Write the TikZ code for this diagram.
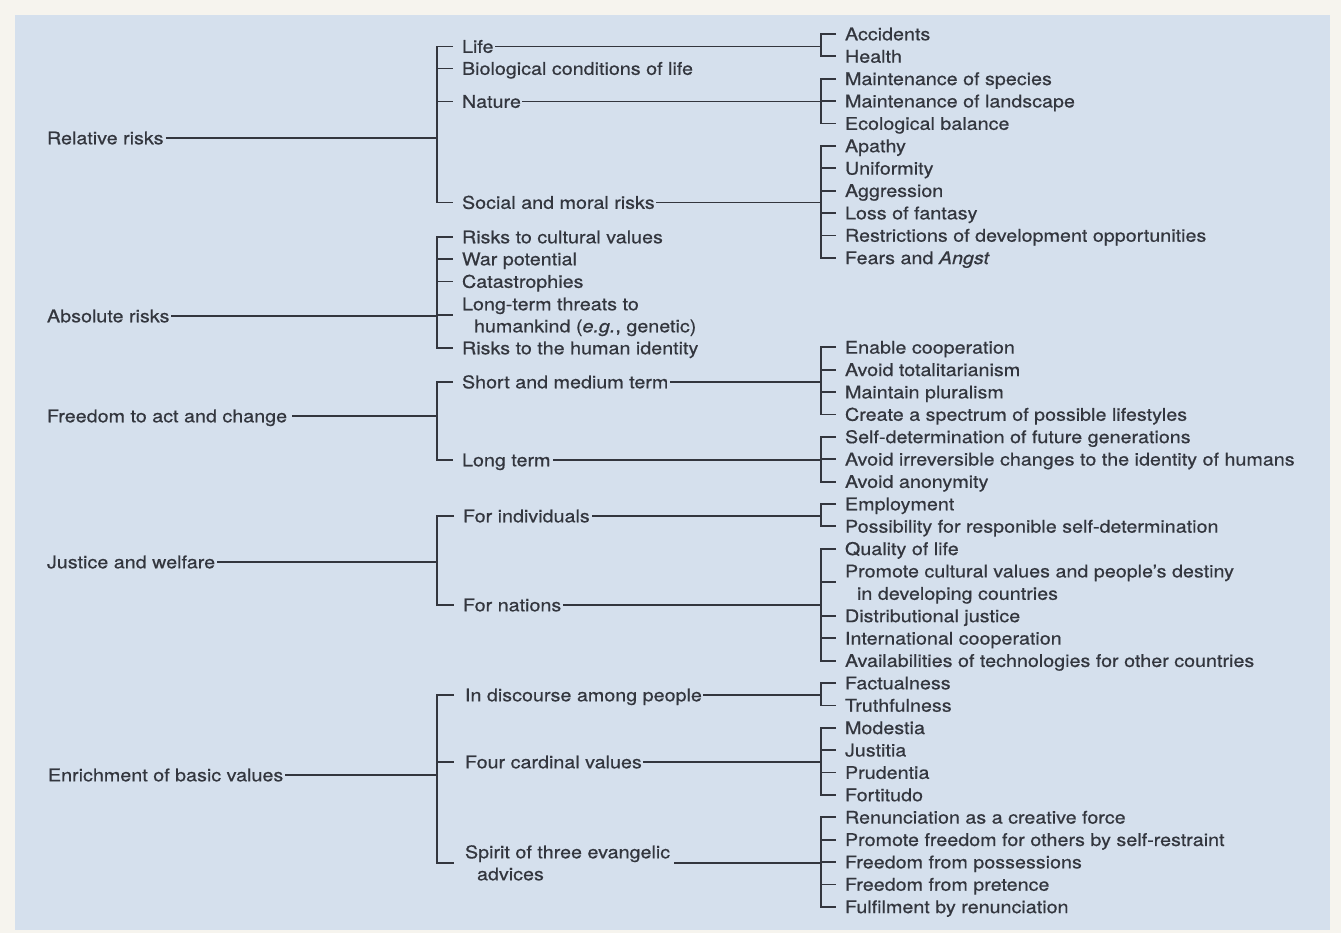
\documentclass[tikz,border=0pt]{standalone}
\usepackage{fontspec}
\setmainfont{TeX Gyre Heros}[FakeStretch=1.127,FakeBold=0.6]
\usetikzlibrary{calc}
\definecolor{paper}{HTML}{F6F4EE}
\definecolor{panel}{HTML}{D5E0ED}
\definecolor{ink}{HTML}{33363E}
\newcommand\lvy[1]{34+22.38*#1}
\begin{document}
\begin{tikzpicture}[x=1pt,y=-1pt,
  lbl/.style={anchor=west, inner sep=0pt, outer sep=0pt, text height=12.6pt, text depth=0pt,
              text=ink, font=\fontsize{17.5}{21}\selectfont},
  wire/.style={draw=ink, line width=1.8pt, line cap=butt},
]
\fill[paper] (0,0) rectangle (1341,933);
\fill[panel] (15,15) rectangle (1330,930);
\useasboundingbox (0,0) rectangle (1341,933);
\coordinate (bx2) at (437,0);
\coordinate (bx3) at (821,0);

% ---------- level 1 ----------
\node[lbl] (rel) at (47,138) {Relative risks};
\node[lbl] (abs) at (47,316) {Absolute risks};
\node[lbl] (fre) at (47,416) {Freedom to act and change};
\node[lbl] (jus) at (47,562) {Justice and welfare};
\node[lbl] (enr) at (48,775) {Enrichment of basic values};

% ---------- level 2 ----------
\node[lbl] (life) at (462,46.5) {Life};
\node[lbl] (bio) at (462,68.5) {Biological conditions of life};
\node[lbl] (nat) at (462,101.5) {Nature};
\node[lbl] (soc) at (462,202.5) {Social and moral risks};
\node[lbl] (cul) at (462,237) {Risks to cultural values};
\node[lbl] (war) at (462,259) {War potential};
\node[lbl] (cat) at (462,281.5) {Catastrophies};
\node[lbl] (lt1) at (462,304) {Long-term threats to};
\node[lbl] (lt2) at (474,326) {humankind (\textit{e.g.}, genetic)};
\node[lbl] (hid) at (462,348) {Risks to the human identity};
\node[lbl] (smt) at (462,382) {Short and medium term};
\node[lbl] (lterm) at (462,460) {Long term};
\node[lbl] (ind) at (463,516) {For individuals};
\node[lbl] (fnat) at (463,605) {For nations};
\node[lbl] (dis) at (465,695) {In discourse among people};
\node[lbl] (car) at (465,762) {Four cardinal values};
\node[lbl] (sp1) at (465,852) {Spirit of three evangelic};
\node[lbl] (sp2) at (477,874) {advices};
\coordinate (ltm) at ($(lt1.west)!0.5!(lt1.west |- lt2.west)$);
\coordinate (spm) at ($(sp1.west)!0.5!(sp1.west |- sp2.west)$);

% ---------- level 3 ----------
\foreach \i/\t in {0/Accidents, 1/Health, 2/Maintenance of species, 3/Maintenance of landscape,
  4/Ecological balance, 5/Apathy, 6/Uniformity, 7/Aggression, 8/Loss of fantasy,
  9/Restrictions of development opportunities, 10/{Fears and \textit{Angst}},
  14/Enable cooperation, 15/Avoid totalitarianism, 16/Maintain pluralism,
  17/Create a spectrum of possible lifestyles, 18/Self-determination of future generations,
  19/Avoid irreversible changes to the identity of humans, 20/Avoid anonymity,
  21/Employment, 22/Possibility for responible self-determination, 23/Quality of life,
  24/Promote cultural values and people's destiny, 26/Distributional justice,
  27/International cooperation, 28/Availabilities of technologies for other countries,
  29/Factualness, 30/Truthfulness, 31/Modestia, 32/Justitia, 33/Prudentia, 34/Fortitudo,
  35/Renunciation as a creative force, 36/Promote freedom for others by self-restraint,
  37/Freedom from possessions, 38/Freedom from pretence, 39/Fulfilment by renunciation}
  {\node[lbl] (a\i) at (845,{\lvy{\i}}) {\t};}
\node[lbl] (a25) at (857,{\lvy{25}}) {in developing countries};
\coordinate (a24m) at ($(a24.west)!0.5!(a24.west |- a25.west)$);

% ---------- level-1 brackets ----------
\draw[wire] (rel.east) ++(2,0) -- (bx2 |- rel.east);
\draw[wire] ([xshift=-9pt]life.west) -- (bx2 |- life.west) -- (bx2 |- soc.west) -- ([xshift=-9pt]soc.west);
\foreach \n in {bio,nat} \draw[wire] (bx2 |- \n.west) -- ([xshift=-9pt]\n.west);

\draw[wire] (abs.east) ++(2,0) -- (bx2 |- abs.east);
\draw[wire] ([xshift=-9pt]cul.west) -- (bx2 |- cul.west) -- (bx2 |- hid.west) -- ([xshift=-9pt]hid.west);
\foreach \n in {war.west,cat.west,ltm} \draw[wire] (bx2 |- \n) -- ([xshift=-9pt]\n);

\draw[wire] (fre.east) ++(5,0) -- (bx2 |- fre.east);
\draw[wire] ([xshift=-9pt]smt.west) -- (bx2 |- smt.west) -- (bx2 |- lterm.west) -- ([xshift=-9pt]lterm.west);

\draw[wire] (jus.east) ++(2,0) -- (bx2 |- jus.east);
\draw[wire] ([xshift=-9pt]ind.west) -- (bx2 |- ind.west) -- (bx2 |- fnat.west) -- ([xshift=-9pt]fnat.west);

\draw[wire] (enr.east) ++(2,0) -- (bx2 |- enr.east);
\draw[wire] ([xshift=-11pt]dis.west) -- (bx2 |- dis.west) -- (bx2 |- spm) -- ([xshift=-11pt]spm);
\draw[wire] (bx2 |- car.west) -- ([xshift=-11pt]car.west);

% ---------- level-2 to level-3 ----------
\draw[wire] (life.east) ++(1.5,0) -- (bx3 |- life.east);
\draw[wire] ([xshift=-9pt]a0.west) -- (bx3 |- a0.west) -- (bx3 |- a1.west) -- ([xshift=-9pt]a1.west);

\draw[wire] (nat.east) ++(1.5,0) -- (bx3 |- nat.east);
\draw[wire] ([xshift=-9pt]a2.west) -- (bx3 |- a2.west) -- (bx3 |- a4.west) -- ([xshift=-9pt]a4.west);
\draw[wire] (bx3 |- a3.west) -- ([xshift=-9pt]a3.west);

\draw[wire] (soc.east) ++(1.5,0) -- (bx3 |- soc.east);
\draw[wire] ([xshift=-9pt]a5.west) -- (bx3 |- a5.west) -- (bx3 |- a10.west) -- ([xshift=-9pt]a10.west);
\foreach \n in {6,7,8,9} \draw[wire] (bx3 |- a\n.west) -- ([xshift=-9pt]a\n.west);

\draw[wire] (smt.east) ++(1.5,0) -- (bx3 |- smt.east);
\draw[wire] ([xshift=-9pt]a14.west) -- (bx3 |- a14.west) -- (bx3 |- a17.west) -- ([xshift=-9pt]a17.west);
\foreach \n in {15,16} \draw[wire] (bx3 |- a\n.west) -- ([xshift=-9pt]a\n.west);

\draw[wire] (lterm.east) ++(2.5,0) -- (bx3 |- lterm.east);
\draw[wire] ([xshift=-9pt]a18.west) -- (bx3 |- a18.west) -- (bx3 |- a20.west) -- ([xshift=-9pt]a20.west);
\draw[wire] (bx3 |- a19.west) -- ([xshift=-9pt]a19.west);

\draw[wire] (ind.east) ++(2.5,0) -- (bx3 |- ind.east);
\draw[wire] ([xshift=-9pt]a21.west) -- (bx3 |- a21.west) -- (bx3 |- a22.west) -- ([xshift=-9pt]a22.west);

\draw[wire] (fnat.east) ++(1.5,0) -- (bx3 |- fnat.east);
\draw[wire] ([xshift=-9pt]a23.west) -- (bx3 |- a23.west) -- (bx3 |- a28.west) -- ([xshift=-9pt]a28.west);
\foreach \n in {a24m,a26.west,a27.west} \draw[wire] (bx3 |- \n) -- ([xshift=-9pt]\n);

\draw[wire] (dis.east) ++(1.5,0) -- (bx3 |- dis.east);
\draw[wire] ([xshift=-9pt]a29.west) -- (bx3 |- a29.west) -- (bx3 |- a30.west) -- ([xshift=-9pt]a30.west);

\draw[wire] (car.east) ++(1.5,0) -- (bx3 |- car.east);
\draw[wire] ([xshift=-9pt]a31.west) -- (bx3 |- a31.west) -- (bx3 |- a34.west) -- ([xshift=-9pt]a34.west);
\foreach \n in {32,33} \draw[wire] (bx3 |- a\n.west) -- ([xshift=-9pt]a\n.west);

\draw[wire] ([xshift=4pt]sp1.east |- spm) -- (bx3 |- spm);
\draw[wire] ([xshift=-9pt]a35.west) -- (bx3 |- a35.west) -- (bx3 |- a39.west) -- ([xshift=-9pt]a39.west);
\foreach \n in {36,37,38} \draw[wire] (bx3 |- a\n.west) -- ([xshift=-9pt]a\n.west);
\end{tikzpicture}
\end{document}
